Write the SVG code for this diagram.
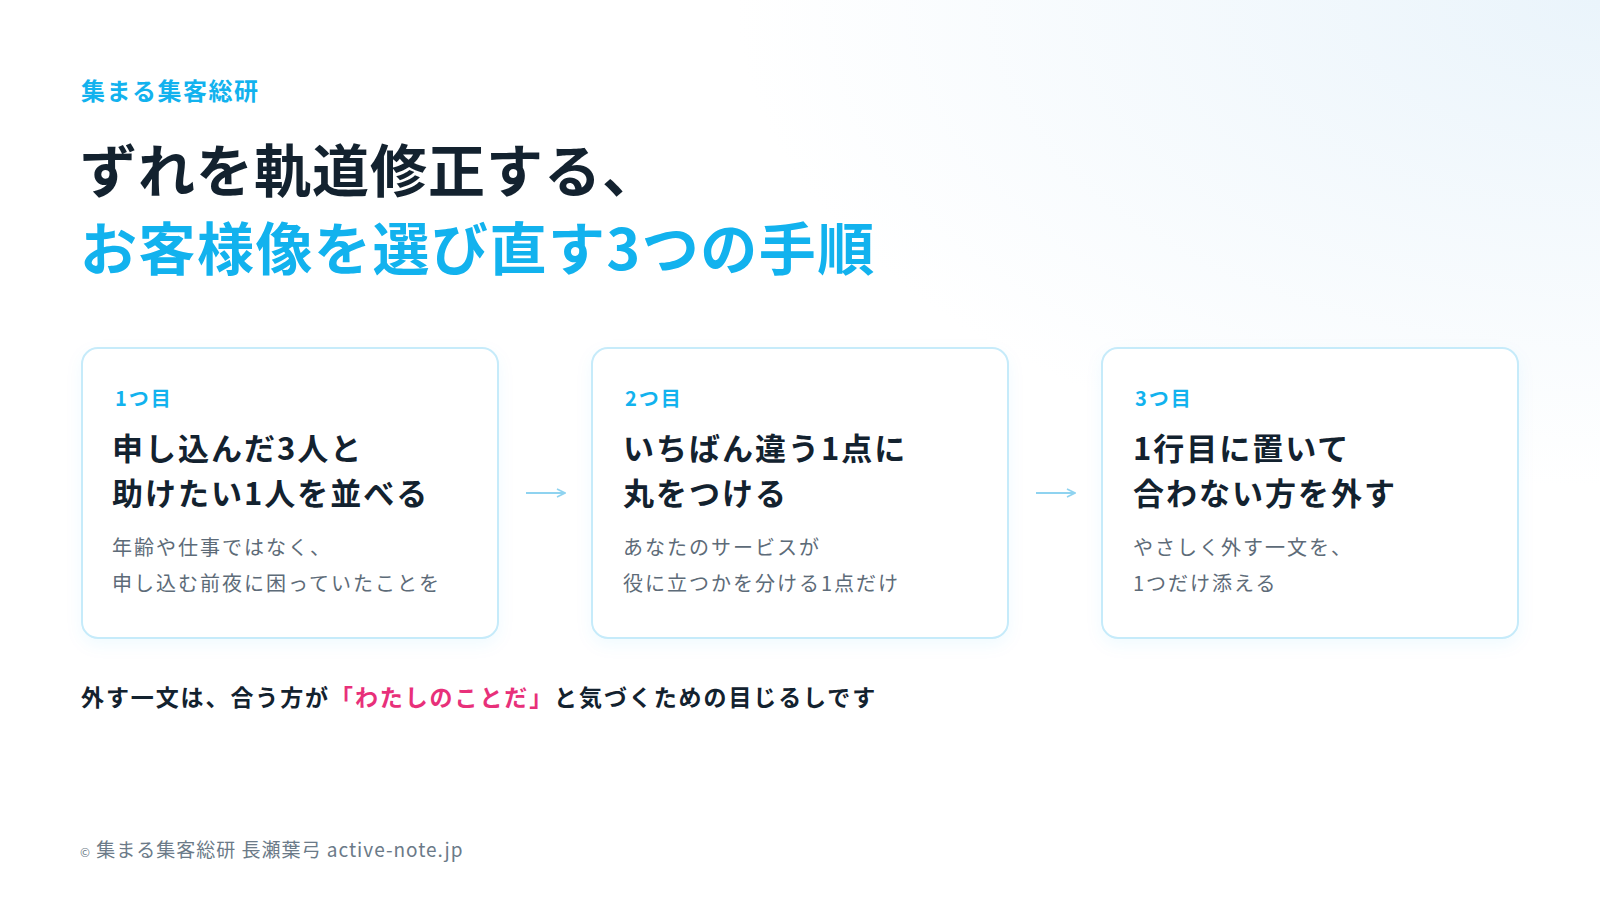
<svg xmlns="http://www.w3.org/2000/svg" width="1600" height="900" viewBox="0 0 1600 900">
<defs>
<radialGradient id="bg" cx="1" cy="0" r="0.9">
<stop offset="0" stop-color="#eaf4fb"/>
<stop offset="0.6" stop-color="#ffffff"/>
</radialGradient>
<filter id="sh" x="-10%" y="-10%" width="120%" height="130%">
<feDropShadow dx="0" dy="6" stdDeviation="8" flood-color="#0ab4f0" flood-opacity="0.06"/>
</filter>
<marker id="ah" viewBox="0 0 10 10" refX="9" refY="5" markerWidth="10" markerHeight="10" markerUnits="userSpaceOnUse" orient="auto">
<path d="M1,1 L9,5 L1,9" fill="none" stroke="#8fd3f0" stroke-width="1.6"/>
</marker>
<style>
text{font-family:"Noto Sans CJK JP","Noto Sans",sans-serif}
.card{fill:#fff;stroke:#c6ebfa;stroke-width:2;filter:url(#sh)}
.lab{font-size:20px;font-weight:700;fill:#12b2ee;letter-spacing:2px}
.hd{font-size:31px;font-weight:700;fill:#13222f;letter-spacing:2px}
.bd{font-size:20px;fill:#5d6b78;letter-spacing:2px}
.con{stroke:#8fd3f0;stroke-width:2;fill:none}
</style>
</defs>
<rect width="1600" height="900" fill="url(#bg)"/>
<text x="81" y="100" font-size="24" font-weight="700" fill="#12b2ee" letter-spacing="1.5">集まる集客総研</text>
<text x="80" y="192" font-size="57" font-weight="700" fill="#13222f" letter-spacing="1">ずれを軌道修正する、</text>
<text x="80" y="270" font-size="57" font-weight="700" fill="#12b2ee" letter-spacing="1.5">お客様像を選び直す3つの手順</text>
<g id="card1"><rect class="card" x="82" y="348" width="416" height="290" rx="16"/>
<text class="lab" x="115" y="406">1つ目</text>
<text class="hd" x="112" y="460">申し込んだ3人と</text>
<text class="hd" x="112" y="505">助けたい1人を並べる</text>
<text class="bd" x="112" y="555">年齢や仕事ではなく、</text>
<text class="bd" x="112" y="591">申し込む前夜に困っていたことを</text></g>
<g id="card2"><rect class="card" x="592" y="348" width="416" height="290" rx="16"/>
<text class="lab" x="625" y="406">2つ目</text>
<text class="hd" x="623" y="460">いちばん違う1点に</text>
<text class="hd" x="623" y="505">丸をつける</text>
<text class="bd" x="623" y="555">あなたのサービスが</text>
<text class="bd" x="623" y="591">役に立つかを分ける1点だけ</text></g>
<g id="card3"><rect class="card" x="1102" y="348" width="416" height="290" rx="16"/>
<text class="lab" x="1135" y="406">3つ目</text>
<text class="hd" x="1133" y="460">1行目に置いて</text>
<text class="hd" x="1133" y="505">合わない方を外す</text>
<text class="bd" x="1133" y="555">やさしく外す一文を、</text>
<text class="bd" x="1133" y="591">1つだけ添える</text></g>
<g id="connectors">
<path class="con" d="M526,493 H565" marker-end="url(#ah)"/>
<path class="con" d="M1036,493 H1075" marker-end="url(#ah)"/>
</g>
<text x="81" y="706" font-size="23" font-weight="700" fill="#13222f" letter-spacing="1.9">外す一文は、合う方が<tspan fill="#e8307a">「わたしのことだ」</tspan>と気づくための目じるしです</text>
<text x="80" y="857" font-size="19" fill="#6b7a88" letter-spacing="1"><tspan font-size="12">©</tspan> 集まる集客総研 長瀬葉弓 active-note.jp</text>
</svg>
